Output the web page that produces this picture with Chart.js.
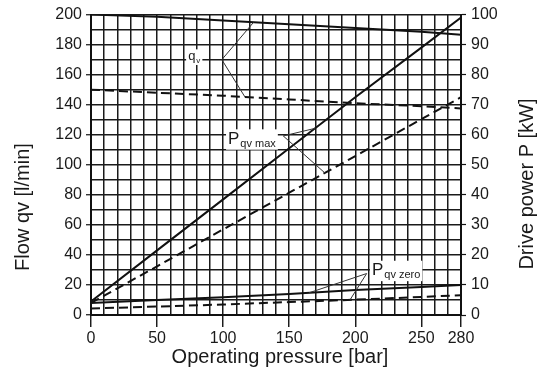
<!DOCTYPE html>
<html>
<head>
<meta charset="utf-8">
<script src="https://cdn.jsdelivr.net/npm/chart.js@4.4.0/dist/chart.umd.min.js"></script>
<style>
  html, body { margin: 0; padding: 0; background: #fff; }
  #wrap { width: 545px; height: 371px; }
</style>
</head>
<body>
<div id="wrap"><canvas id="pumpChart"></canvas></div>
<script>
// operating pressure [bar]
const pressure = [0, 50, 100, 150, 200, 250, 280];
// flow qv [l/min]
const qvSolid = [200, 198.5, 196, 193.5, 191, 188.5, 186.5];
const qvDashed = [150, 148, 146, 143.5, 141, 139, 137.5];
// drive power [kW]
const pMaxSolid = [4.5, 21.5, 38.5, 55.5, 72.5, 89, 99];
const pMaxDashed = [4, 16.2, 28.5, 40.7, 52.9, 65.2, 72.5];
const pZeroSolid = [4, 5, 5.9, 7, 8.3, 9.3, 10];
const pZeroDashed = [2.2, 2.8, 3.5, 4.3, 5.1, 6, 6.6];

const xTickLabels = [0, 50, 100, 150, 200, 250, 280];
const flowTickLabels = [0, 20, 40, 60, 80, 100, 120, 140, 160, 180, 200];
const powerTickLabels = [0, 10, 20, 30, 40, 50, 60, 70, 80, 90, 100];

const fontFamily = "'Liberation Sans', Arial, sans-serif";
const ink = '#1a1a1a';

function pts(ys) {
    return pressure.map((p, i) => ({ x: p, y: ys[i] }));
}

function lineSet(label, ys, axis, dashed) {
    return {
        label: label,
        data: pts(ys),
        yAxisID: axis,
        borderColor: '#111',
        borderWidth: 2,
        borderDash: dashed ? [9, 5] : [],
        pointRadius: 0,
        tension: 0,
        fill: false
    };
}

// value of a series at a given pressure, used to end the leader lines on the curve
function valueAt(ys, p) {
    for (let i = 1; i < pressure.length; i++) {
        if (p <= pressure[i]) {
            let t = (p - pressure[i - 1]) / (pressure[i] - pressure[i - 1]);
            return ys[i - 1] + t * (ys[i] - ys[i - 1]);
        }
    }
    return ys[ys.length - 1];
}

const seriesList = [qvSolid, qvDashed, pMaxSolid, pMaxDashed, pZeroSolid, pZeroDashed];

// curve labels: text anchor and pivot in (bar, l/min), leaders go to [series index, bar]
const curveLabels = [
    { main: 'q', sub: 'v', mainSize: 13, subSize: 8, at: [73.5, 169.5], pivot: [99, 170], to: [[0, 123], [1, 116.5]] },
    { main: 'P', sub: 'qv max', mainSize: 17, subSize: 11, at: [103.7, 114], pivot: [145.5, 119.2], to: [[2, 169.5], [3, 177]] },
    { main: 'P', sub: 'qv zero', mainSize: 17, subSize: 11, at: [212.6, 26.5], pivot: [208.6, 27.6], to: [[4, 165], [5, 196]] }
];

const curveLabelPlugin = {
    id: 'curveLabels',
    afterDatasetsDraw(chart) {
        const ctx = chart.ctx;
        const xs = chart.scales.x;
        const ys = chart.scales.y;
        ctx.save();
        curveLabels.forEach(lb => {
            const px = xs.getPixelForValue(lb.at[0]);
            const py = ys.getPixelForValue(lb.at[1]);
            ctx.font = lb.mainSize + 'px ' + fontFamily;
            const wMain = ctx.measureText(lb.main).width;
            ctx.font = lb.subSize + 'px ' + fontFamily;
            const wSub = ctx.measureText(lb.sub).width;
            // white box behind the text
            ctx.fillStyle = '#fff';
            ctx.fillRect(px - 2, py - lb.mainSize * 0.85, wMain + wSub + 5, lb.mainSize * 1.2);
            ctx.fillStyle = ink;
            ctx.textBaseline = 'alphabetic';
            ctx.textAlign = 'left';
            ctx.font = lb.mainSize + 'px ' + fontFamily;
            ctx.fillText(lb.main, px, py);
            ctx.font = lb.subSize + 'px ' + fontFamily;
            ctx.fillText(lb.sub, px + wMain + 1, py + lb.subSize * 0.3);

            // leader lines
            const qx = xs.getPixelForValue(lb.pivot[0]);
            const qy = ys.getPixelForValue(lb.pivot[1]);
            ctx.strokeStyle = '#333';
            ctx.lineWidth = 1;
            lb.to.forEach(t => {
                const ds = chart.data.datasets[t[0]];
                const sc = chart.scales[ds.yAxisID];
                const tx = xs.getPixelForValue(t[1]);
                const ty = sc.getPixelForValue(valueAt(seriesList[t[0]], t[1]));
                ctx.beginPath();
                ctx.moveTo(qx, qy);
                ctx.lineTo(tx, ty);
                ctx.stroke();
            });
        });
        ctx.restore();
    }
};

const axisTitlePlugin = {
    id: 'axisTitles',
    afterDraw(chart) {
        const ctx = chart.ctx;
        const area = chart.chartArea;
        ctx.save();
        ctx.fillStyle = ink;
        ctx.font = '20px ' + fontFamily;
        ctx.textAlign = 'center';
        ctx.textBaseline = 'middle';
        ctx.fillText('Operating pressure [bar]', 280, area.bottom + 42);
        ctx.save();
        ctx.translate(23, 207);
        ctx.rotate(-Math.PI / 2);
        ctx.fillText('Flow qv [l/min]', 0, 0);
        ctx.restore();
        ctx.save();
        ctx.translate(527, 184);
        ctx.rotate(-Math.PI / 2);
        ctx.fillText('Drive power P [kW]', 0, 0);
        ctx.restore();
        ctx.restore();
    }
};

function tickColorFor(list) {
    return function (c) {
        return (c.tick && list.includes(c.tick.value)) ? '#111' : 'rgba(0,0,0,0)';
    };
}

const config = {
    type: 'line',
    data: {
        datasets: [
            lineSet('qv', qvSolid, 'y', false),
            lineSet('qv', qvDashed, 'y', true),
            lineSet('Pqv max', pMaxSolid, 'y2', false),
            lineSet('Pqv max', pMaxDashed, 'y2', true),
            lineSet('Pqv zero', pZeroSolid, 'y2', false),
            lineSet('Pqv zero', pZeroDashed, 'y2', true)
        ]
    },
    options: {
        animation: false,
        responsive: true,
        maintainAspectRatio: false,
        layout: { padding: { top: 13, left: 0, right: 0, bottom: 0 } },
        plugins: {
            legend: { display: false },
            tooltip: { enabled: false }
        },
        scales: {
            x: {
                type: 'linear',
                min: 0,
                max: 280,
                afterFit: s => { s.height = 56; },
                border: { display: true, color: '#111', width: 2 },
                grid: {
                    color: ink,
                    lineWidth: 1.5,
                    tickLength: 12,
                    tickColor: tickColorFor(xTickLabels),
                    tickWidth: 1.4
                },
                ticks: {
                    stepSize: 10,
                    autoSkip: false,
                    maxRotation: 0,
                    padding: 2,
                    color: ink,
                    font: { family: fontFamily, size: 16 },
                    callback: v => xTickLabels.includes(v) ? String(v) : ''
                }
            },
            y: {
                position: 'left',
                min: 0,
                max: 200,
                afterFit: s => { s.width = 91; },
                border: { display: true, color: '#111', width: 2 },
                grid: {
                    color: ink,
                    lineWidth: 1.5,
                    tickLength: 5,
                    tickColor: tickColorFor(flowTickLabels),
                    tickWidth: 1.2
                },
                ticks: {
                    stepSize: 10,
                    autoSkip: false,
                    padding: 4,
                    color: ink,
                    font: { family: fontFamily, size: 16 },
                    callback: v => flowTickLabels.includes(v) ? String(v) : ''
                }
            },
            y2: {
                position: 'right',
                min: 0,
                max: 100,
                afterFit: s => { s.width = 84; },
                border: { display: true, color: '#111', width: 2 },
                grid: {
                    drawOnChartArea: false,
                    tickLength: 5,
                    tickColor: '#111',
                    tickWidth: 1.2
                },
                ticks: {
                    stepSize: 10,
                    autoSkip: false,
                    padding: 5,
                    color: ink,
                    font: { family: fontFamily, size: 16 },
                    callback: v => powerTickLabels.includes(v) ? String(v) : ''
                }
            }
        }
    },
    plugins: [curveLabelPlugin, axisTitlePlugin]
};

new Chart('pumpChart', config);
</script>
</body>
</html>
